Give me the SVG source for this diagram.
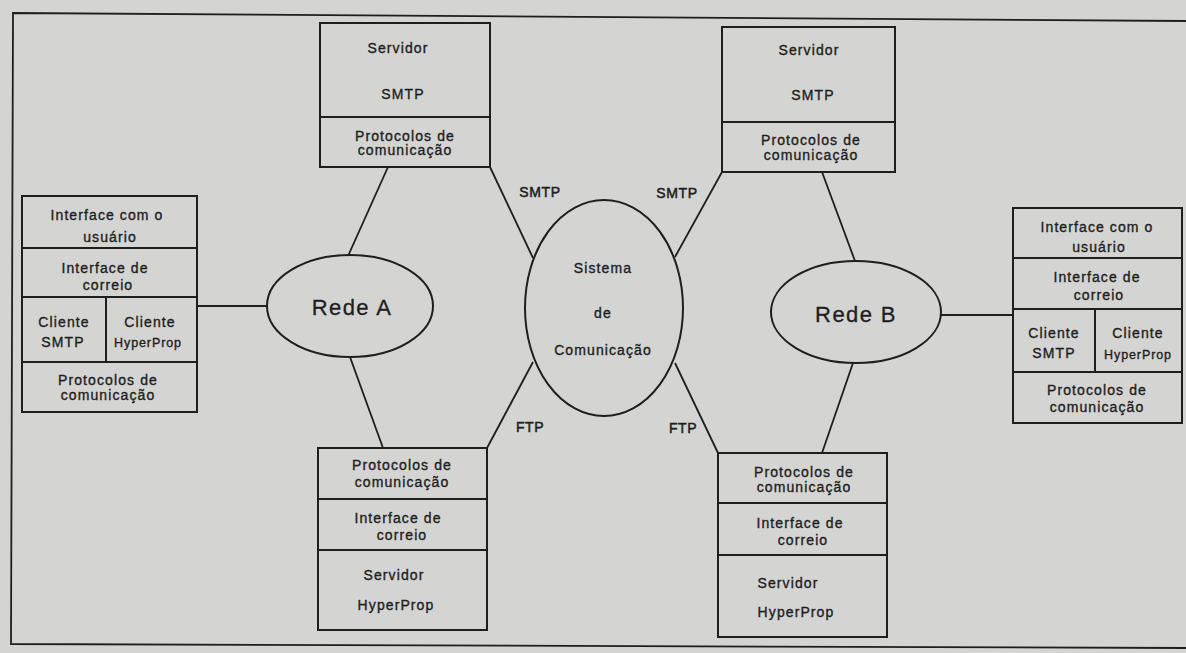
<svg xmlns="http://www.w3.org/2000/svg" width="1186" height="653" viewBox="0 0 1186 653">
<style>
.bg{fill:#d4d4d2}
.box{fill:none;stroke:#1e1e1e;stroke-width:2}
.ln{stroke:#1e1e1e;stroke-width:1.8;fill:none}
.ell{fill:none;stroke:#1e1e1e;stroke-width:2}
text{font-family:"Liberation Sans",Arial,sans-serif;font-size:14px;fill:#1e1e1e;stroke:#1e1e1e;stroke-width:0.35px;text-anchor:middle;letter-spacing:1.1px}
.big{font-size:22px;letter-spacing:1.4px;stroke-width:0.3px}
.sm{font-size:12.5px;letter-spacing:0.9px}
.lbl{font-size:14px;letter-spacing:0.6px;stroke-width:0.5px}
</style>
<rect class="bg" x="0" y="0" width="1186" height="653"/>
<g id="frame">
<path class="ln" d="M1186,21 L13,13 L11,644 L1186,648" stroke-width="2.2"/>
</g>
<g id="connectors">
<line class="ln" x1="197" y1="306" x2="267" y2="306"/>
<line class="ln" x1="388" y1="167" x2="348" y2="256"/>
<line class="ln" x1="350" y1="357" x2="383" y2="448"/>
<line class="ln" x1="490" y1="167" x2="533" y2="258"/>
<line class="ln" x1="675" y1="257" x2="722" y2="172"/>
<line class="ln" x1="533" y1="362" x2="487" y2="448"/>
<line class="ln" x1="675" y1="363" x2="718" y2="453"/>
<line class="ln" x1="822" y1="172" x2="855" y2="261"/>
<line class="ln" x1="853" y1="363" x2="822" y2="453"/>
<line class="ln" x1="941" y1="315" x2="1013" y2="315"/>
<text class="lbl" x="540" y="197">SMTP</text>
<text class="lbl" x="677" y="198">SMTP</text>
<text class="lbl" x="530" y="432">FTP</text>
<text class="lbl" x="683" y="433">FTP</text>
</g>
<g id="servidor-smtp-a">
<rect class="box" x="320" y="23" width="170" height="144"/>
<line class="box" x1="320" y1="117" x2="490" y2="117"/>
<text x="398" y="53">Servidor</text>
<text x="403" y="99">SMTP</text>
<text x="405" y="141">Protocolos de</text>
<text x="405" y="155">comunicação</text>
</g>
<g id="servidor-smtp-b">
<rect class="box" x="722" y="27" width="173" height="145"/>
<line class="box" x1="722" y1="122" x2="895" y2="122"/>
<text x="809" y="55">Servidor</text>
<text x="813" y="100">SMTP</text>
<text x="811" y="145">Protocolos de</text>
<text x="811" y="160">comunicação</text>
</g>
<g id="cliente-a">
<rect class="box" x="22" y="196" width="175" height="216"/>
<line class="box" x1="22" y1="248" x2="197" y2="248"/>
<line class="box" x1="22" y1="297" x2="197" y2="297"/>
<line class="box" x1="22" y1="362" x2="197" y2="362"/>
<line class="box" x1="106" y1="297" x2="106" y2="362"/>
<text x="107" y="220">Interface com o</text>
<text x="110" y="242">usuário</text>
<text x="105" y="273">Interface de</text>
<text x="108" y="290">correio</text>
<text x="64" y="327">Cliente</text>
<text x="63" y="347">SMTP</text>
<text x="150" y="327">Cliente</text>
<text class="sm" x="148" y="347">HyperProp</text>
<text x="108" y="385">Protocolos de</text>
<text x="108" y="400">comunicação</text>
</g>
<g id="rede-a">
<ellipse class="ell" cx="350" cy="306" rx="83" ry="51"/>
<text class="big" x="352" y="315">Rede A</text>
</g>
<g id="sistema">
<ellipse class="ell" cx="604" cy="308" rx="79" ry="108"/>
<text x="603" y="273">Sistema</text>
<text x="603" y="318">de</text>
<text x="603" y="355">Comunicação</text>
</g>
<g id="rede-b">
<ellipse class="ell" cx="856" cy="312" rx="85" ry="51"/>
<text class="big" x="856" y="322">Rede B</text>
</g>
<g id="cliente-b">
<rect class="box" x="1013" y="208" width="169" height="215"/>
<line class="box" x1="1013" y1="258" x2="1182" y2="258"/>
<line class="box" x1="1013" y1="309" x2="1182" y2="309"/>
<line class="box" x1="1013" y1="372" x2="1182" y2="372"/>
<line class="box" x1="1095" y1="309" x2="1095" y2="372"/>
<text x="1097" y="232">Interface com o</text>
<text x="1099" y="252">usuário</text>
<text x="1097" y="282">Interface de</text>
<text x="1099" y="300">correio</text>
<text x="1054" y="338">Cliente</text>
<text x="1054" y="358">SMTP</text>
<text x="1138" y="338">Cliente</text>
<text class="sm" x="1138" y="359">HyperProp</text>
<text x="1097" y="395">Protocolos de</text>
<text x="1097" y="412">comunicação</text>
</g>
<g id="servidor-hyperprop-a">
<rect class="box" x="318" y="448" width="169" height="182"/>
<line class="box" x1="318" y1="499" x2="487" y2="499"/>
<line class="box" x1="318" y1="550" x2="487" y2="550"/>
<text x="402" y="470">Protocolos de</text>
<text x="402" y="487">comunicação</text>
<text x="398" y="523">Interface de</text>
<text x="402" y="540">correio</text>
<text x="394" y="580">Servidor</text>
<text x="396" y="610">HyperProp</text>
</g>
<g id="servidor-hyperprop-b">
<rect class="box" x="718" y="453" width="169" height="184"/>
<line class="box" x1="718" y1="503" x2="887" y2="503"/>
<line class="box" x1="718" y1="555" x2="887" y2="555"/>
<text x="804" y="477">Protocolos de</text>
<text x="804" y="492">comunicação</text>
<text x="800" y="528">Interface de</text>
<text x="803" y="545">correio</text>
<text x="788" y="588">Servidor</text>
<text x="796" y="617">HyperProp</text>
</g>
</svg>
